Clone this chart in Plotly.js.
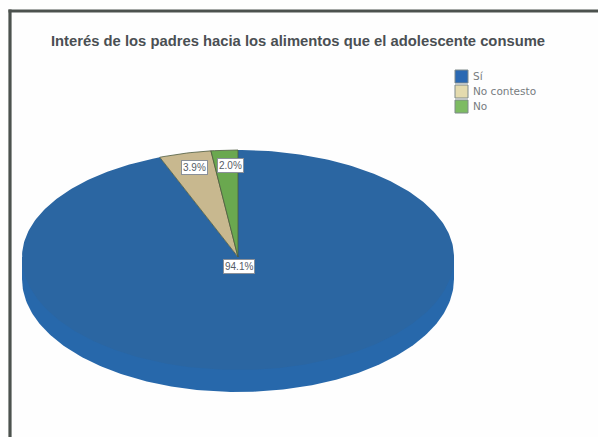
<!DOCTYPE html>
<html><head><meta charset="utf-8">
<script src="https://cdn.plot.ly/plotly-3.0.1.min.js"></script>
<style>html,body{margin:0;padding:0;background:#fff;overflow:hidden}</style>
</head><body><div id="chart" style="width:598px;height:437px"></div>
<script>
// Data
const categories = ['Sí', 'No contesto', 'No'];
const values = [94.1, 3.9, 2.0];
const percentLabels = ['94.1%', '3.9%', '2.0%'];
const sliceColors = ['#2b66a2', '#c8b88f', '#6aa84f'];
const swatchColors = ['#2a69b3', '#e4dbae', '#7dbb62'];
const sideColor = '#2768ab';
const titleText = 'Interés de los padres hacia los alimentos que el adolescente consume';

// Geometry of the tilted pie, in pixels of the page
const W = 598, H = 437, cx = 238, cy = 257, rx = 216, ry = 107;
const lowerStretch = 113 / 107, depth = 22 / 107;

const pt = deg => {
  const t = deg * Math.PI / 180, s = Math.sin(t), c = Math.cos(t);
  return [s, c < 0 ? c * lowerStretch : c];
};
const total = values.reduce((a, b) => a + b, 0);
let acc = 0;
const slices = values.map(v => {
  const from = acc / total * 360; acc += v;
  return {from, to: acc / total * 360};
});

const traces = [];
// extruded side
const sx = [], sy = [];
for (let a = 90; a <= 270; a += 1) { const p = pt(a); sx.push(p[0]); sy.push(p[1] - depth); }
sx.push(-1, 1); sy.push(0, 0);
traces.push({x: sx, y: sy, mode: 'lines', fill: 'toself', fillcolor: sideColor,
  line: {width: 0}, hoverinfo: 'skip', showlegend: false});
// top faces
slices.forEach((s, i) => {
  const xs = [0], ys = [0];
  const n = Math.max(2, Math.ceil(s.to - s.from));
  for (let k = 0; k <= n; k++) {
    const p = pt(s.from + (s.to - s.from) * k / n);
    xs.push(p[0]); ys.push(p[1]);
  }
  xs.push(0); ys.push(0);
  traces.push({x: xs, y: ys, mode: 'lines', fill: 'toself', fillcolor: sliceColors[i],
    line: {width: i === 0 ? 0 : 0.8, color: '#4c5a3f'}, name: categories[i],
    hoverinfo: 'name', showlegend: false});
});

// percentage labels anchored on each slice's middle angle
const mid = s => (s.from + s.to) / 2 * Math.PI / 180;
const annotations = [
  {x: 0, y: 0, text: percentLabels[0], xshift: 1, yshift: -9},
  {x: Math.sin(mid(slices[1])) * 0.8, y: Math.cos(mid(slices[1])) * 0.85, text: percentLabels[1], xshift: -1, yshift: 1},
  {x: Math.sin(mid(slices[2])) * 0.8, y: Math.cos(mid(slices[2])) * 0.85, text: percentLabels[2], xshift: 3, yshift: 1}
].map(a => Object.assign(a, {
  xref: 'x', yref: 'y', showarrow: false, bgcolor: '#ffffff', bordercolor: '#8a9099',
  borderwidth: 1, borderpad: 1, font: {family: 'Liberation Sans', size: 10, color: '#555c66'}
}));

// legend, matching the small tight key of the original
const shapes = [];
const px = v => v / W, py = v => 1 - v / H;
categories.forEach((c, i) => {
  const top = 70 + i * 15;
  shapes.push({type: 'rect', xref: 'paper', yref: 'paper', x0: px(455), x1: px(468),
    y0: py(top), y1: py(top + 13), fillcolor: swatchColors[i], line: {color: '#7f8a8a', width: 1}});
  annotations.push({xref: 'paper', yref: 'paper', x: px(471), y: py(top + 6.5), xanchor: 'left', yanchor: 'middle',
    text: c, showarrow: false, font: {family: 'DejaVu Sans', size: 10.5, color: '#777c80'}});
});
// frame
const frame = '#4c524e';
shapes.push({type: 'line', xref: 'paper', yref: 'paper', x0: px(10), x1: px(10), y0: 0, y1: py(9.5), line: {color: frame, width: 3.2}});
shapes.push({type: 'line', xref: 'paper', yref: 'paper', x0: px(8.5), x1: 1, y0: py(11), y1: py(11), line: {color: frame, width: 3}});

Plotly.newPlot('chart', traces, {
  width: W, height: H,
  margin: {l: 0, r: 0, t: 0, b: 0},
  paper_bgcolor: '#fefefe', plot_bgcolor: 'rgba(0,0,0,0)',
  showlegend: false,
  title: {text: '<b>' + titleText + '</b>', x: 298 / W, xanchor: 'center', y: 1 - 41 / H, yanchor: 'middle',
    font: {family: 'Liberation Sans', size: 14.8, color: '#4a4f53'}},
  xaxis: {range: [-cx / rx, (W - cx) / rx], visible: false, fixedrange: true},
  yaxis: {range: [-(H - cy) / ry, cy / ry], visible: false, fixedrange: true},
  shapes, annotations
}, {displayModeBar: false, staticPlot: true});
</script></body></html>
